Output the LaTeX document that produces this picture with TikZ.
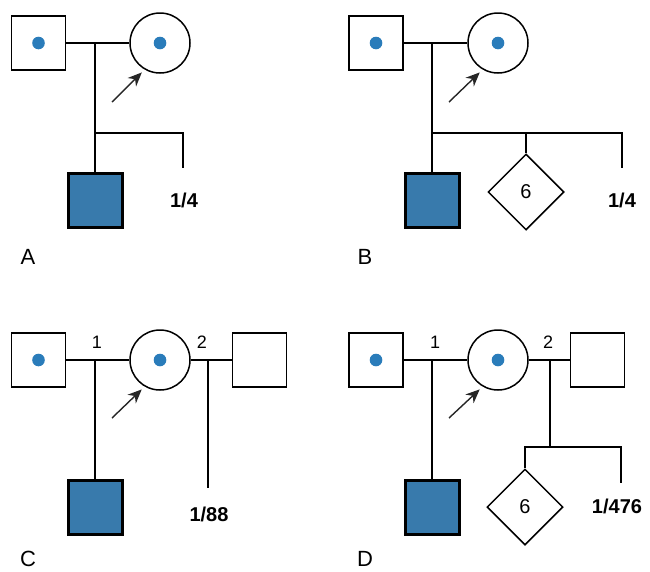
\documentclass[tikz,border=0pt]{standalone}
\usepackage{fontspec}
\setmainfont{Liberation Sans}
\usetikzlibrary{shapes.geometric,arrows.meta}

\definecolor{affblue}{RGB}{56,122,172}
\definecolor{dotblue}{RGB}{42,124,186}

\tikzset{
  person/.style = {draw, line width=1.5pt, inner sep=0pt},
  male/.style = {person, rectangle, minimum size=54pt},
  female/.style = {person, circle, minimum size=60pt},
  affected/.style = {male, fill=affblue, line width=3pt},
  carrier/.style = {path picture={\fill[dotblue] (path picture bounding box.center) circle (6.3pt);}},
  sibs/.style = {person, diamond, aspect=1, minimum size=76pt, font=\fontsize{20}{24}\selectfont},
  prob/.style = {font=\fontsize{20}{24}\selectfont\bfseries, inner sep=0pt},
  mating/.style = {font=\fontsize{18}{22}\selectfont, inner sep=0pt},
  panel/.style = {font=\fontsize{22}{26}\selectfont, inner sep=0pt},
  pointer/.style = {-{Stealth[length=14pt,width=12pt]}, line width=1.4pt, draw=black!85, fill=black!85, shorten >=4pt},
}

\begin{document}
\begin{tikzpicture}[x=1pt, y=-1pt, line width=1.5pt]
  \useasboundingbox (0,0) rectangle (650,571);

  % A: carrier couple, affected son
  \node[male, carrier] (fA) at (38.5,43) {};
  \node[female, carrier] (mA) at (160,43) {};
  \node[affected] (sA) at (95,200) {};
  \coordinate (jA) at (95,43);
  \coordinate (kA) at (95,133);
  \coordinate (eA) at (183,168);
  \coordinate (aA) at (112,102);
  \draw (fA) -- (mA);
  \draw (jA) -- (sA);
  \draw (kA) -| (eA);
  \node[prob] (pA) at (184,200) {1/4};
  \draw[pointer] (aA) -- (mA.240);
  \node[panel] (lA) at (28,257) {A};

  % B: as A, with six unaffected sibs
  \node[male, carrier] (fB) at (376,43) {};
  \node[female, carrier] (mB) at (498,43) {};
  \node[affected] (sB) at (432,200) {};
  \node[sibs] (dB) at (526,192) {6};
  \coordinate (jB) at (432,43);
  \coordinate (kB) at (432,133);
  \coordinate (cB) at (526,133);
  \coordinate (eB) at (622,168);
  \coordinate (aB) at (449,102);
  \draw (fB) -- (mB);
  \draw (jB) -- (sB);
  \draw (kB) -| (eB);
  \draw (cB) -- (dB);
  \node[prob] (pB) at (622,200) {1/4};
  \draw[pointer] (aB) -- (mB.240);
  \node[panel] (lB) at (365,257) {B};

  % C: second mate from the population
  \node[male, carrier] (fC) at (38.5,360) {};
  \node[female, carrier] (mC) at (160,360) {};
  \node[male] (hC) at (259.5,360) {};
  \node[affected] (sC) at (95,507) {};
  \coordinate (jC) at (95,360);
  \coordinate (rC) at (208,360);
  \coordinate (eC) at (208,488);
  \coordinate (aC) at (112,418);
  \draw (fC) -- (mC);
  \draw (mC) -- (hC);
  \draw (jC) -- (sC);
  \draw (rC) -- (eC);
  \node[mating] (nC1) at (97,342) {1};
  \node[mating] (nC2) at (202,342) {2};
  \node[prob] (pC) at (209,514) {1/88};
  \draw[pointer] (aC) -- (mC.240);
  \node[panel] (lC) at (28,559) {C};

  % D: second mate, six unaffected sibs
  \node[male, carrier] (fD) at (376,360) {};
  \node[female, carrier] (mD) at (498,360) {};
  \node[male] (hD) at (597.5,360) {};
  \node[affected] (sD) at (432,507) {};
  \node[sibs] (dD) at (525,507) {6};
  \coordinate (jD) at (432,360);
  \coordinate (rD) at (550,360);
  \coordinate (kD) at (550,447);
  \coordinate (eD) at (621,483);
  \coordinate (aD) at (449,418);
  \draw (fD) -- (mD);
  \draw (mD) -- (hD);
  \draw (jD) -- (sD);
  \draw (rD) -- (kD);
  \draw (dD.north) |- (kD) -| (eD);
  \node[mating] (nD1) at (435,342) {1};
  \node[mating] (nD2) at (548,342) {2};
  \node[prob] (pD) at (617,506) {1/476};
  \draw[pointer] (aD) -- (mD.240);
  \node[panel] (lD) at (365,559) {D};
\end{tikzpicture}
\end{document}
